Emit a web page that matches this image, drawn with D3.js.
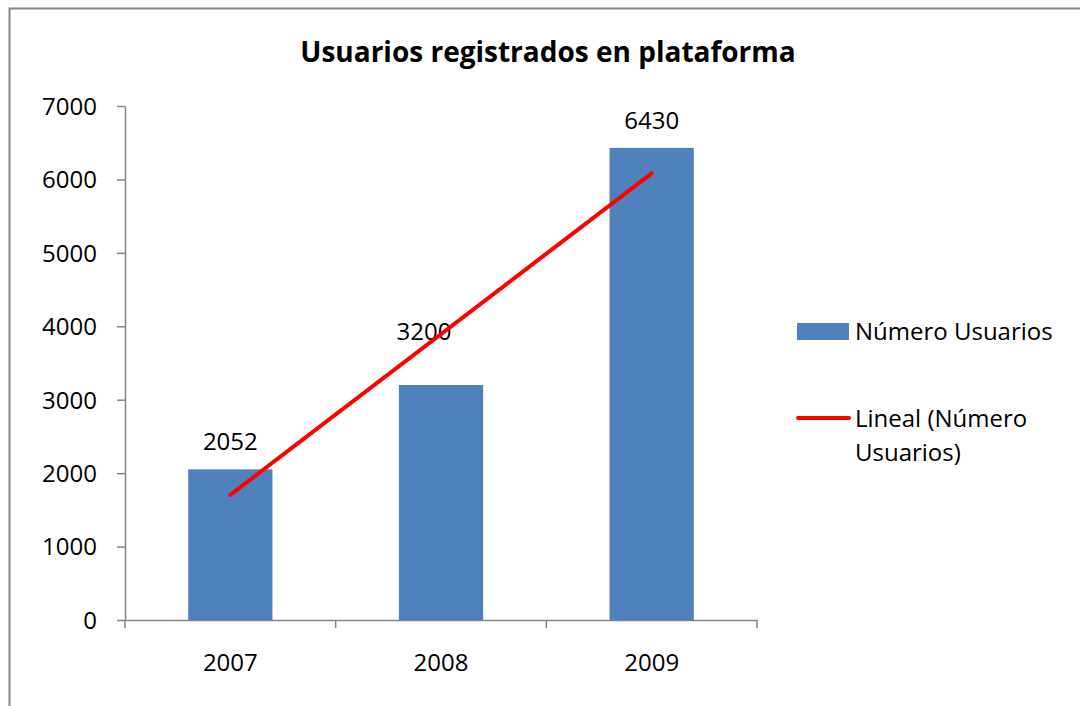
<!DOCTYPE html>
<html>
<head>
<meta charset="utf-8">
<script src="https://cdn.jsdelivr.net/npm/d3@7"></script>
<style>
  body { margin: 0; background: #fff; }
  text { font-family: "Open Sans", Lato, sans-serif; fill: #000; }
</style>
</head>
<body>
<svg id="chart" width="1080" height="706"></svg>
<script>
// data
const years = ['2007', '2008', '2009']
const usuarios = [2052, 3200, 6430]
// linear trendline (Excel "Lineal"), value at first and last category
const trendYears = ['2007', '2009']
const trendValues = [1705, 6083]
const yTicks = [0, 1000, 2000, 3000, 4000, 5000, 6000, 7000]

const svg = d3.select('#chart')

// chart area border
svg.append('rect')
    .attr('x', 9.5).attr('y', 8.5)
    .attr('width', 1100).attr('height', 720)
    .attr('fill', 'none')
    .attr('stroke', '#868686')
    .attr('stroke-width', 2)

svg.append('text')
    .attr('x', 548).attr('y', 62)
    .attr('text-anchor', 'middle')
    .style('font-size', '28px')
    .style('font-weight', 'bold')
    .text('Usuarios registrados en plataforma')

const plot = { left: 125, right: 757, top: 106, bottom: 620 }

const x = d3.scaleBand()
    .domain(years)
    .range([plot.left, plot.right])
    .paddingInner(0.6)
    .paddingOuter(0.3)

// axis scale without padding, so the ticks sit between categories
const xAxisScale = d3.scaleBand()
    .domain(years)
    .range([plot.left, plot.right])

const y = d3.scaleLinear()
    .domain([0, 7000])
    .range([plot.bottom, plot.top])

// y axis
const yAxis = svg.append('g')
    .attr('transform', 'translate(' + plot.left + ',0)')
    .call(d3.axisLeft(y).tickValues(yTicks).tickFormat(d3.format('d'))
        .tickSize(8).tickPadding(20).tickSizeOuter(0))
yAxis.select('.domain').attr('stroke', '#868686').attr('stroke-width', 1.5)
yAxis.selectAll('.tick line').attr('stroke', '#868686').attr('stroke-width', 1.5)
yAxis.selectAll('.tick text').style('font-size', '24px').attr('dy', '0.35em')

// x axis
const xAxis = svg.append('g')
    .attr('transform', 'translate(0,' + plot.bottom + ')')
    .call(d3.axisBottom(xAxisScale).tickSize(0).tickPadding(34))
xAxis.select('.domain').attr('stroke', '#868686').attr('stroke-width', 1.5)
xAxis.selectAll('.tick text').style('font-size', '24px')

// category separator ticks
const sepTicks = [plot.left].concat(years.map(function(d) { return xAxisScale(d) + xAxisScale.bandwidth() }))
xAxis.selectAll('line.sep')
    .data(sepTicks)
    .enter().append('line')
    .attr('class', 'sep')
    .attr('x1', function(d) { return d }).attr('x2', function(d) { return d })
    .attr('y1', 0).attr('y2', 8)
    .attr('stroke', '#868686')
    .attr('stroke-width', 1.5)

// bars
svg.append('g')
    .selectAll('rect')
    .data(years)
    .enter().append('rect')
    .attr('x', function(d) { return x(d) })
    .attr('width', x.bandwidth())
    .attr('y', function(d, i) { return y(usuarios[i]) })
    .attr('height', function(d, i) { return y(0) - y(usuarios[i]) })
    .attr('fill', '#4F81BD')

// data labels (the 2008 one was dragged in the original)
const labelShift = { '2008': { dx: -17, dy: -26 } }
svg.append('g')
    .selectAll('text')
    .data(years)
    .enter().append('text')
    .attr('x', function(d) { return x(d) + x.bandwidth() / 2 + (labelShift[d] ? labelShift[d].dx : 0) })
    .attr('y', function(d, i) { return y(usuarios[i]) - 19 + (labelShift[d] ? labelShift[d].dy : 0) })
    .attr('text-anchor', 'middle')
    .style('font-size', '24px')
    .text(function(d, i) { return usuarios[i] })

// trendline
const line = d3.line()
    .x(function(d) { return x(d[0]) + x.bandwidth() / 2 })
    .y(function(d) { return y(d[1]) })
svg.append('path')
    .datum(d3.zip(trendYears, trendValues))
    .attr('d', line)
    .attr('fill', 'none')
    .attr('stroke', '#FF0000')
    .attr('stroke-width', 4)
    .attr('stroke-linecap', 'round')

// legend
const legend = svg.append('g')
legend.append('rect')
    .attr('x', 797).attr('y', 323)
    .attr('width', 52).attr('height', 17)
    .attr('fill', '#4F81BD')
legend.append('text')
    .attr('x', 855).attr('y', 340)
    .style('font-size', '24px')
    .text('Número Usuarios')
legend.append('line')
    .attr('x1', 798).attr('x2', 849)
    .attr('y1', 418).attr('y2', 418)
    .attr('stroke', '#FF0000')
    .attr('stroke-width', 4)
    .attr('stroke-linecap', 'round')
const lt = legend.append('text')
    .attr('x', 855).attr('y', 427)
    .style('font-size', '24px')
lt.append('tspan').attr('x', 855).text('Lineal (Número')
lt.append('tspan').attr('x', 855).attr('dy', 34).text('Usuarios)')
</script>
</body>
</html>
